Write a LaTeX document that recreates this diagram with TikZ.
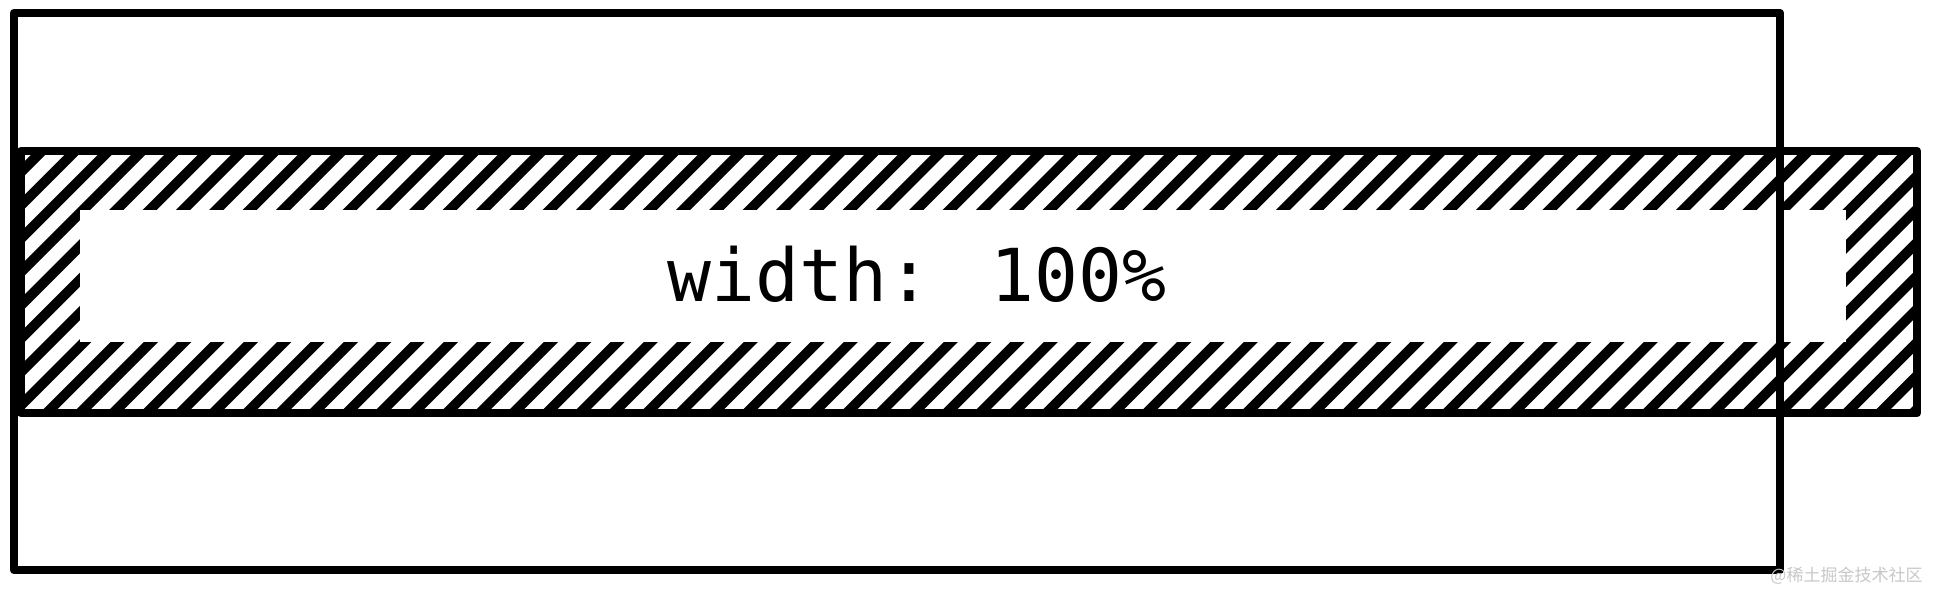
\documentclass[tikz,border=0pt]{standalone}
\usepackage{fontspec}
\newfontfamily\monofont{DejaVu Sans Mono}
\newfontfamily\cjkfont{Noto Sans CJK SC}
\definecolor{wmgray}{RGB}{200,200,200}
\tikzset{
  boxline/.style={draw=black, line width=4.3pt, line join=round},
  hatchline/.style={draw=black, line width=5pt},
}
\begin{document}
\begin{tikzpicture}[x=0.5pt,y=-0.5pt]
\useasboundingbox[fill=white] (0,0) rectangle (1936,592);
% hatching inside band
\begin{scope}
  \clip (21,151) rectangle (1917,413);
  \foreach \k in {-3,...,70}{
    \pgfmathsetmacro{\c}{193+33.33*\k}
    \draw[hatchline] (\c-440,440) -- (\c-120,120);
  }
\end{scope}
% content area
\fill[white] (80,210) rectangle (1846,342);
\node[anchor=base, inner sep=0pt, font=\monofont\fontsize{36.5pt}{40pt}\selectfont] (label) at (917,302) {width: 100\%};
% band border
\draw[boxline] (21,151) rectangle (1917,413);
% outer container
\draw[boxline] (14,13) rectangle (1780,570);
% watermark
\node[anchor=base west, inner sep=0pt, text=wmgray, font=\cjkfont\fontsize{8.5pt}{10pt}\selectfont] (wm) at (1770,581) {@稀土掘金技术社区};
\end{tikzpicture}
\end{document}
